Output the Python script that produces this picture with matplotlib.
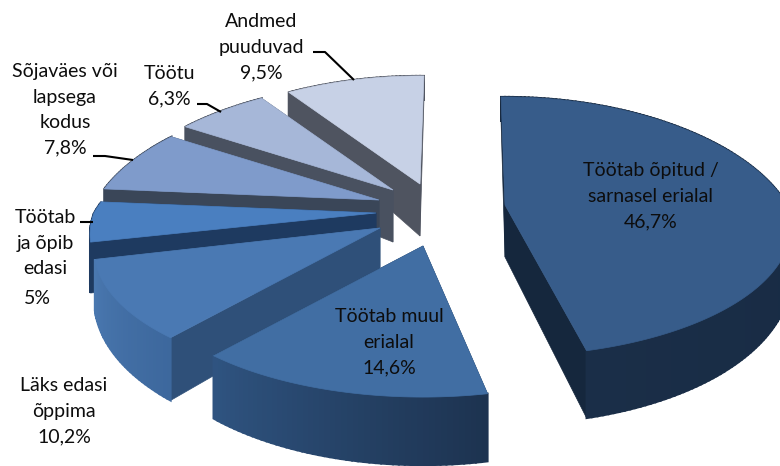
import numpy as np
import matplotlib
matplotlib.use('Agg')
import matplotlib.pyplot as plt
from matplotlib.colors import to_rgb
from matplotlib.patches import Polygon

plt.rcParams['font.family'] = ['Lato', 'DejaVu Sans']

# chart data, clockwise from the top
names = ['Töötab õpitud /\nsarnasel erialal', 'Töötab muul\nerialal', 'Läks edasi\nõppima',
         'Töötab\nja õpib\nedasi', 'Sõjaväes või\nlapsega\nkodus', 'Töötu', 'Andmed\npuuduvad']
values = [46.7, 14.6, 10.2, 5, 7.8, 6.3, 9.5]

# styles per slice
top_colors = ['#375c8a', '#416ea3', '#4a79b3', '#4a7fc0', '#7f9bcb', '#a6b7d8', '#c7d1e6']
cut_colors = ['#15273d', '#1d3552', '#2f5079', '#1e3a60', '#3a4658', '#495160', '#4f5460']
rim_start = ['#15273d', '#1d3350', '#3d689d', '#1e3a60', '#3a4658', '#495160', '#4f5460']
rim_end = ['#1a2e48', '#2f5481', '#4a78b0', '#1e3a60', '#3a4658', '#495160', '#4f5460']
explode = [(115, 0), (33, 41), (-10, 23), (-14, 8), (-11, -5), (3, -15), (30, -21)]
# small angle corrections at both ends of a slice, degrees
pad = [(-1, -2), (1, 0), (0, -1), (0, 0), (0, 0), (0, 0), (0, 1)]
label_pos = [(651, 196), (389, 342), (64, 411), (45, 243), (65, 110), (169, 86), (261, 47)]

center = (390, 205)
rx, ry, persp_x, persp_y = 282, 126, 0.25, 0.166
depth_mid, depth_amp, depth_apex = 46, 22, 52


def rim(theta, apex):
    c = np.cos(theta)
    sx = 1 / (1 + np.where(c > 0, persp_x, persp_y) * c)
    sy = 1 / (1 + persp_y * c)
    return apex[0] + rx * np.sin(theta) * sx, apex[1] - ry * c * sy


def rim_depth(theta):
    return depth_mid - depth_amp * np.cos(theta)


def mix(c1, c2, t):
    a, b = np.array(to_rgb(c1)), np.array(to_rgb(c2))
    return tuple(a + (b - a) * t)


def draw_slice(ax, t0, t1, apex, top, cut, c0, c1):
    thetas = np.linspace(t0, t1, max(int(np.degrees(t1 - t0)), 2) + 1)
    xs, ys = rim(thetas, apex)
    ds = rim_depth(thetas)

    # cut faces first
    for i in (0, -1):
        wall = [apex, (xs[i], ys[i]), (xs[i], ys[i] + ds[i]), (apex[0], apex[1] + depth_apex)]
        ax.add_patch(Polygon(wall, closed=True, fc=cut, ec=cut, lw=0.5))

    # outer wall, cut in strips for the gradient
    for i in range(len(thetas) - 1):
        strip = [(xs[i], ys[i]), (xs[i + 1], ys[i + 1]),
                 (xs[i + 1], ys[i + 1] + ds[i + 1]), (xs[i], ys[i] + ds[i])]
        col = mix(c0, c1, i / (len(thetas) - 1))
        ax.add_patch(Polygon(strip, closed=True, fc=col, ec=col, lw=1.5))

    pts = [apex] + list(zip(xs, ys))
    ax.add_patch(Polygon(pts, closed=True, fc=top, ec=top, lw=0.5))


fig = plt.figure(figsize=(7.8, 4.66), dpi=100)
ax = fig.add_axes([0, 0, 1, 1])
ax.set_xlim(0, 780)
ax.set_ylim(466, 0)
ax.axis('off')

bounds = np.degrees(np.concatenate([[0], np.cumsum(values)]) / sum(values) * 2 * np.pi)

# back slices first so the front ones cover them
for i in range(len(values) - 1, -1, -1):
    apex = (center[0] + explode[i][0], center[1] + explode[i][1])
    t0 = np.radians(bounds[i] + pad[i][0])
    t1 = np.radians(bounds[i + 1] + pad[i][1])
    draw_slice(ax, t0, t1, apex, top_colors[i], cut_colors[i], rim_start[i], rim_end[i])

# labels
for i, name in enumerate(names):
    val = str(values[i]).replace('.', ',') + '%'
    if name.endswith('edasi') and name.startswith('Töötab'):
        ax.text(label_pos[i][0], label_pos[i][1], name, ha='center', va='center', fontsize=14, linespacing=1.6, color='#0d0d0d')
        ax.text(37, 298, val, ha='center', va='center', fontsize=14, color='#0d0d0d')
    else:
        ax.text(label_pos[i][0], label_pos[i][1], name + '\n' + val, ha='center', va='center',
                fontsize=14, linespacing=1.6, color='#0d0d0d')

# leader lines
leaders = [([313, 325, 354], [52, 52, 80]), ([197, 207, 221], [104, 104, 112]),
           ([93, 105, 133], [156, 156, 160]), ([80, 93], [222, 222])]
for lx, ly in leaders:
    ax.plot(lx, ly, color='black', lw=1.5, solid_capstyle='butt')

fig.savefig('out.png', dpi=100)
